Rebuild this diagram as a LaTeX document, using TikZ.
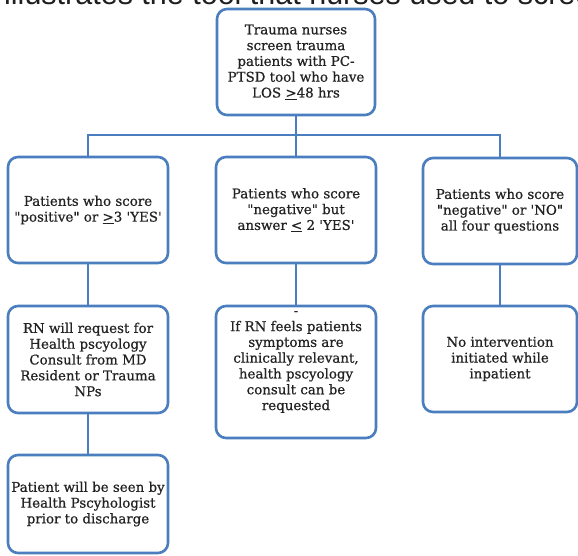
\documentclass[tikz,border=0pt]{standalone}
\usepackage{fontspec}
\newfontfamily\boxfont{DejaVu Serif}[FakeBold=0.6]
\newfontfamily\headfont{Liberation Sans}
\definecolor{boxblue}{RGB}{74,126,190}
\definecolor{txtgray}{RGB}{34,34,34}
\tikzset{
  box/.style={draw=boxblue, line width=2.6pt, rounded corners=10pt, fill=white, inner sep=0pt},
  txt/.style={font=\boxfont\fontsize{13.4}{15.8}\selectfont, text=txtgray, align=center, inner sep=0pt},
  link/.style={draw=boxblue, line width=2.6pt},
  head/.style={font=\headfont\fontsize{30.5}{30}\selectfont, text=black!88, anchor=base west, inner sep=0pt}
}
\begin{document}
\begin{tikzpicture}[x=1pt,y=1pt]
\useasboundingbox (0,0) rectangle (578,-556);
\clip (0,0) rectangle (578,-556);
\fill[white] (0,0) rectangle (578,-556);
\node[head] (headline) at (4,-4.5) {illustrates the tool that nurses used to screen};

% boxes
\node[box, txt, minimum width=158pt, minimum height=106pt] (top) at (296,-62)
  {Trauma nurses\\screen trauma\\patients with PC-\\PTSD tool who have\\LOS \underline{>}48 hrs};
\node[box, txt, minimum width=160pt, minimum height=106pt] (l1) at (88,-210)
  {Patients who score\\"positive" or \underline{>}3 'YES'};
\node[box, txt, minimum width=160pt, minimum height=106pt] (m1) at (296,-210)
  {Patients who score\\"negative" but\\answer \underline{<} 2 'YES'};
\node[box, txt, minimum width=154pt, minimum height=106pt] (r1) at (500,-211)
  {Patients who score\\"negative" or 'NO"\\all four questions};
\node[box, txt, minimum width=160pt, minimum height=107pt] (l2) at (88,-359.5)
  {RN will request for\\Health pscyology\\Consult from MD\\Resident or Trauma\\NPs};
\node[box, minimum width=160pt, minimum height=132pt] (m2) at (296,-372) {};
\node[txt] (m2t) at (296,-362)
  {-\\If RN feels patients\\symptoms are\\clinically relevant,\\health pscyology\\consult can be\\requested};
\node[box, txt, minimum width=154pt, minimum height=106pt] (r2) at (500,-359)
  {No intervention\\initiated while\\inpatient};
\node[box, txt, minimum width=160pt, minimum height=98pt] (l3) at (88,-504)
  {Patient will be seen by\\Health Pscyhologist\\prior to discharge};

% connectors
\coordinate (hl) at (88,-135);
\coordinate (hm) at (296,-135);
\coordinate (hr) at (500,-135);
\draw[link] (top.south) -- (hm);
\draw[link] (l1.north) -- (hl) -- (hr) -- (r1.north);
\draw[link] (hm) -- (m1.north);
\draw[link] (l1.south) -- (l2.north);
\draw[link] (m1.south) -- (m2.north);
\draw[link] (r1.south) -- (r2.north);
\draw[link] (l2.south) -- (l3.north);
\end{tikzpicture}
\end{document}
